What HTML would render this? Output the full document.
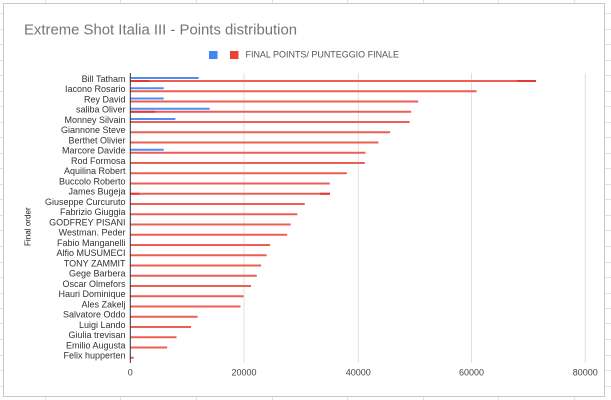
<!DOCTYPE html>
<html><head><meta charset="utf-8"><style>
html,body{margin:0;padding:0;background:#fff;}
svg{display:block;font-family:"Liberation Sans",Arial,sans-serif;}
</style></head><body>
<svg width="611" height="400" viewBox="0 0 611 400" xmlns="http://www.w3.org/2000/svg">
<!-- spreadsheet background grid -->
<g stroke="#e3e3e3" stroke-width="1">
<line x1="45.5" y1="0" x2="45.5" y2="400"/><line x1="120.5" y1="0" x2="120.5" y2="400"/>
<line x1="196.5" y1="0" x2="196.5" y2="400"/><line x1="272.5" y1="0" x2="272.5" y2="400"/>
<line x1="347.5" y1="0" x2="347.5" y2="400"/><line x1="423.5" y1="0" x2="423.5" y2="400"/>
<line x1="498.5" y1="0" x2="498.5" y2="400"/><line x1="574.5" y1="0" x2="574.5" y2="400"/>
<line x1="0" y1="13.5" x2="611" y2="13.5"/><line x1="0" y1="29.5" x2="611" y2="29.5"/>
<line x1="0" y1="44.5" x2="611" y2="44.5"/><line x1="0" y1="60.5" x2="611" y2="60.5"/>
<line x1="0" y1="75.5" x2="611" y2="75.5"/><line x1="0" y1="91.5" x2="611" y2="91.5"/>
<line x1="0" y1="106.5" x2="611" y2="106.5"/><line x1="0" y1="122.5" x2="611" y2="122.5"/>
<line x1="0" y1="137.5" x2="611" y2="137.5"/><line x1="0" y1="153.5" x2="611" y2="153.5"/>
<line x1="0" y1="168.5" x2="611" y2="168.5"/><line x1="0" y1="184.5" x2="611" y2="184.5"/>
<line x1="0" y1="199.5" x2="611" y2="199.5"/><line x1="0" y1="215.5" x2="611" y2="215.5"/>
<line x1="0" y1="230.5" x2="611" y2="230.5"/><line x1="0" y1="246.5" x2="611" y2="246.5"/>
<line x1="0" y1="262.5" x2="611" y2="262.5"/><line x1="0" y1="277.5" x2="611" y2="277.5"/>
<line x1="0" y1="293.5" x2="611" y2="293.5"/><line x1="0" y1="308.5" x2="611" y2="308.5"/>
<line x1="0" y1="323.5" x2="611" y2="323.5"/><line x1="0" y1="339.5" x2="611" y2="339.5"/>
<line x1="0" y1="355.5" x2="611" y2="355.5"/><line x1="0" y1="370.5" x2="611" y2="370.5"/>
<line x1="0" y1="386.5" x2="611" y2="386.5"/>
</g>
<!-- chart card -->
<rect x="3.5" y="3.5" width="601" height="393" fill="#fff" stroke="#c8c8c8" stroke-width="1"/>

<!-- title -->
<text x="24" y="34.5" font-size="15" fill="#757575" textLength="273" lengthAdjust="spacingAndGlyphs">Extreme Shot Italia III - Points distribution</text>

<!-- legend -->
<rect x="209" y="51" width="8.5" height="8" fill="#4285f4"/>
<rect x="230" y="51" width="8.5" height="8" fill="#ea4335"/>
<text x="245.5" y="57.5" font-size="9" fill="#555" textLength="153.5" lengthAdjust="spacingAndGlyphs">FINAL POINTS/ PUNTEGGIO FINALE</text>

<!-- gridlines -->
<g stroke="#e0e0e0" stroke-width="1">
<line x1="244" y1="73" x2="244" y2="363"/>
<line x1="358.3" y1="73" x2="358.3" y2="363"/>
<line x1="471.5" y1="73" x2="471.5" y2="363"/>
<line x1="585.3" y1="73" x2="585.3" y2="363"/>
</g>

<!-- red bars -->
<g fill="#ee5d52">
<rect x="130.3" y="80" width="405.5" height="2"/>
<rect x="130.3" y="90.25" width="346.3" height="2"/>
<rect x="130.3" y="100.5" width="287.9" height="2"/>
<rect x="130.3" y="110.75" width="280.8" height="2"/>
<rect x="130.3" y="121" width="279.3" height="2"/>
<rect x="130.3" y="131.25" width="259.8" height="2"/>
<rect x="130.3" y="141.5" width="248.1" height="2"/>
<rect x="130.3" y="151.75" width="235.2" height="2"/>
<rect x="130.3" y="162" width="234.5" height="2"/>
<rect x="130.3" y="172.25" width="216.5" height="2"/>
<rect x="130.3" y="182.5" width="199.4" height="2"/>
<rect x="130.3" y="192.75" width="199.4" height="2"/>
<rect x="130.3" y="203" width="174.5" height="2"/>
<rect x="130.3" y="213.25" width="167" height="2"/>
<rect x="130.3" y="223.5" width="160.4" height="2"/>
<rect x="130.3" y="233.75" width="156.9" height="2"/>
<rect x="130.3" y="244" width="139.8" height="2"/>
<rect x="130.3" y="254.25" width="136.3" height="2"/>
<rect x="130.3" y="264.5" width="130.8" height="2"/>
<rect x="130.3" y="274.75" width="126.5" height="2"/>
<rect x="130.3" y="285" width="120.7" height="2"/>
<rect x="130.3" y="295.25" width="113.3" height="2"/>
<rect x="130.3" y="305.5" width="110.2" height="2"/>
<rect x="130.3" y="315.75" width="67.3" height="2"/>
<rect x="130.3" y="326" width="60.7" height="2"/>
<rect x="130.3" y="336.25" width="46.2" height="2"/>
<rect x="130.3" y="346.5" width="36.9" height="2"/>
<rect x="130.3" y="356.75" width="3.4" height="2"/>
</g>
<!-- darker overlap segments -->
<g fill="#e23a2e">
<rect x="130.3" y="80" width="19" height="2"/>
<rect x="517" y="80" width="19" height="2"/>
<rect x="130.3" y="110.75" width="25" height="2"/>
<rect x="130.3" y="192.75" width="9" height="2"/>
<rect x="320" y="192.75" width="10" height="2"/>
</g>

<!-- blue bars -->
<g fill="#4e8df5">
<rect x="130.3" y="77" width="68.4" height="2"/>
<rect x="130.3" y="87.25" width="33.4" height="2"/>
<rect x="130.3" y="97.5" width="33.4" height="2"/>
<rect x="130.3" y="107.75" width="79.4" height="2"/>
<rect x="130.3" y="118" width="45.1" height="2"/>
<rect x="130.3" y="148.75" width="33.4" height="2"/>
</g>

<!-- zero axis -->
<line x1="130.3" y1="73" x2="130.3" y2="363" stroke="#333" stroke-width="1"/>

<!-- category labels -->
<g font-size="9" fill="#333" text-anchor="end">
<text x="125.5" y="81.8">Bill Tatham</text>
<text x="125.5" y="92.05">Iacono Rosario</text>
<text x="125.5" y="102.3">Rey David</text>
<text x="125.5" y="112.55">saliba Oliver</text>
<text x="125.5" y="122.8">Monney Silvain</text>
<text x="125.5" y="133.05">Giannone Steve</text>
<text x="125.5" y="143.3">Berthet Olivier</text>
<text x="125.5" y="153.55">Marcore Davide</text>
<text x="125.5" y="163.8">Rod Formosa</text>
<text x="125.5" y="174.05">Aquilina Robert</text>
<text x="125.5" y="184.3">Buccolo Roberto</text>
<text x="125.5" y="194.55">James Bugeja</text>
<text x="125.5" y="204.8">Giuseppe Curcuruto</text>
<text x="125.5" y="215.05">Fabrizio Giuggia</text>
<text x="125.5" y="225.3">GODFREY PISANI</text>
<text x="125.5" y="235.55">Westman. Peder</text>
<text x="125.5" y="245.8">Fabio Manganelli</text>
<text x="125.5" y="256.05">Alfio MUSUMECI</text>
<text x="125.5" y="266.3">TONY ZAMMIT</text>
<text x="125.5" y="276.55">Gege Barbera</text>
<text x="125.5" y="286.8">Oscar Olmefors</text>
<text x="125.5" y="297.05">Hauri Dominique</text>
<text x="125.5" y="307.3">Ales Zakelj</text>
<text x="125.5" y="317.55">Salvatore Oddo</text>
<text x="125.5" y="327.8">Luigi Lando</text>
<text x="125.5" y="338.05">Giulia trevisan</text>
<text x="125.5" y="348.3">Emilio Augusta</text>
<text x="125.5" y="358.55">Felix hupperten</text>
</g>

<!-- x tick labels -->
<g font-size="9" fill="#444" text-anchor="middle">
<text x="130.3" y="375.5">0</text>
<text x="244" y="375.5">20000</text>
<text x="358.3" y="375.5">40000</text>
<text x="471.5" y="375.5">60000</text>
<text x="585.3" y="375.5">80000</text>
</g>

<!-- y axis title -->
<text transform="translate(30.4,226.7) rotate(-90)" font-size="8.5" fill="#222" text-anchor="middle" textLength="38.7" lengthAdjust="spacingAndGlyphs">Final order</text>
</svg>
</body></html>
